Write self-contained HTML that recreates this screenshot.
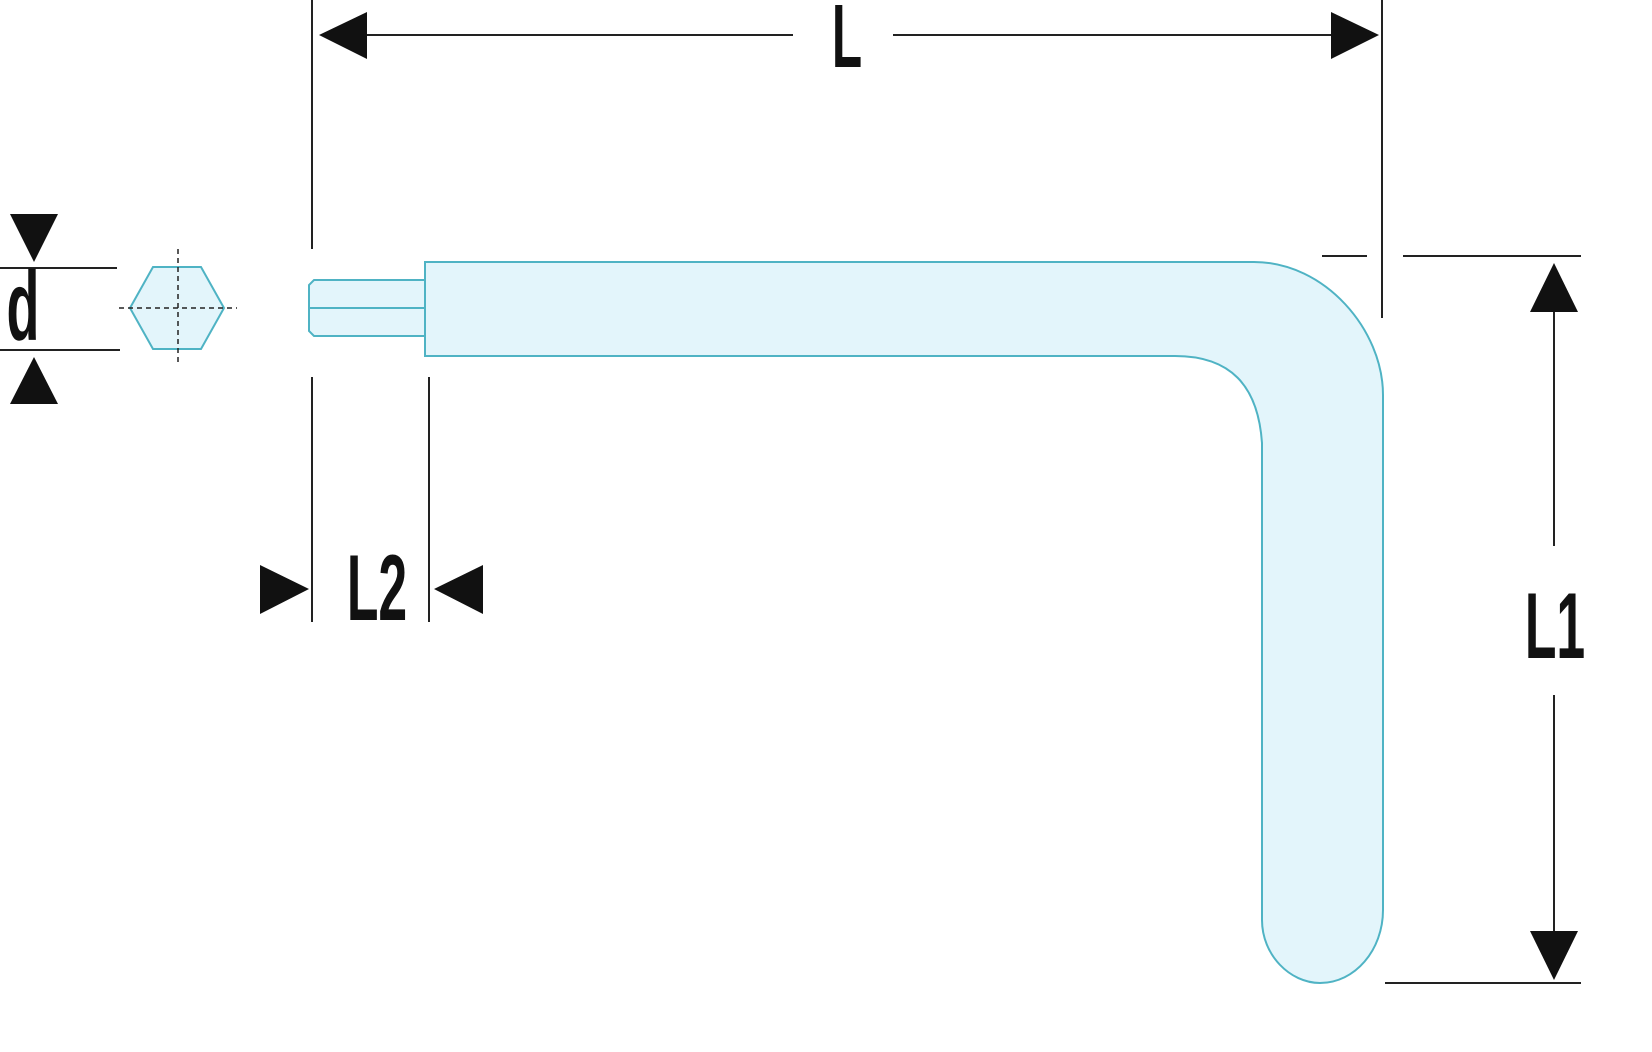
<!DOCTYPE html>
<html><head><meta charset="utf-8"><style>html,body{margin:0;padding:0;background:#fff}svg{display:block}</style></head>
<body>
<svg width="1652" height="1052" viewBox="0 0 1652 1052" xmlns="http://www.w3.org/2000/svg">
<g stroke="#222" stroke-width="2" fill="none">
<line x1="312" y1="0" x2="312" y2="249"/>
<line x1="312" y1="377" x2="312" y2="622"/>
<line x1="429" y1="377" x2="429" y2="622"/>
<line x1="1382" y1="0" x2="1382" y2="318"/>
<line x1="360" y1="35" x2="793" y2="35"/>
<line x1="893" y1="35" x2="1335" y2="35"/>
<line x1="1322" y1="256" x2="1367" y2="256"/>
<line x1="1403" y1="256" x2="1581" y2="256"/>
<line x1="1385" y1="983" x2="1581" y2="983"/>
<line x1="1554" y1="305" x2="1554" y2="546"/>
<line x1="1554" y1="695" x2="1554" y2="935"/>
<line x1="0" y1="268" x2="117" y2="268"/>
<line x1="0" y1="350" x2="120" y2="350"/>
</g>
<g fill="#111">
<polygon points="319,35 367,12 367,59"/>
<polygon points="1379,35 1331,12 1331,59"/>
<polygon points="1554,263 1530,312 1578,312"/>
<polygon points="1554,980 1530,931 1578,931"/>
<polygon points="10,214 58,214 34,262"/>
<polygon points="34,357 10,404 58,404"/>
<polygon points="309,589 260,565 260,614"/>
<polygon points="434,589 483,565 483,614"/>
</g>
<g fill="#e3f5fb" stroke="#4fb3c4" stroke-width="2">
<path d="M425,262 L1254,262 C1325,262 1383,330 1383,395 L1383,910 C1383,950 1355,983 1320,983 C1290,983 1262,955 1262,920 L1262,443 C1258,385 1230,356 1175,356 L425,356 Z"/>
<path d="M314,280 L425,280 L425,336 L314,336 L309,331 L309,285 Z"/>
<line x1="309" y1="308" x2="425" y2="308"/>
<polygon points="130,308 153,267 201,267 224,308 201,349 153,349"/>
</g>
<g stroke="#222" stroke-width="1.5" stroke-dasharray="5,4">
<line x1="119" y1="308" x2="237" y2="308"/>
<line x1="178" y1="249" x2="178" y2="366"/>
</g>
<g font-family="Liberation Sans, sans-serif" font-weight="bold" fill="#111">
<text x="847" y="67" font-size="90" text-anchor="middle" transform="translate(847 0) scale(0.55 1) translate(-847 0)">L</text>
<text x="1555" y="658" font-size="94" text-anchor="middle" transform="translate(1555 0) scale(0.55 1) translate(-1555 0)">L1</text>
<text x="377" y="620" font-size="94" text-anchor="middle" transform="translate(377 0) scale(0.55 1) translate(-377 0)">L2</text>
<text x="23" y="340" font-size="98" text-anchor="middle" transform="translate(23 0) scale(0.55 1) translate(-23 0)">d</text>
</g>
</svg>
</body></html>
